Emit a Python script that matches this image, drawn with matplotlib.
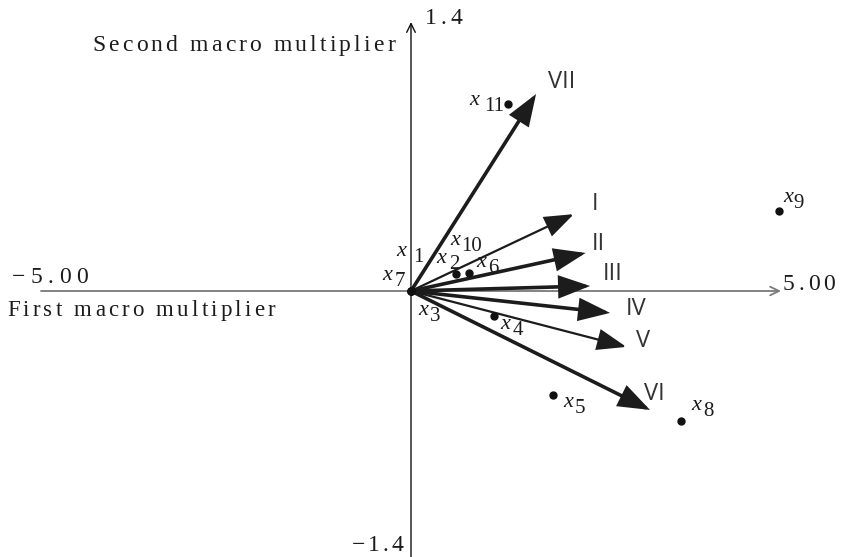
import matplotlib
matplotlib.use("Agg")
import matplotlib.pyplot as plt

# Factor loadings (arrows) on the two macro multipliers
factor_names = ["I", "II", "III", "IV", "V", "VI", "VII"]
factor_x = [2.20, 2.36, 2.42, 2.69, 2.91, 3.23, 1.69]
factor_y = [0.40, 0.198, 0.026, -0.114, -0.291, -0.619, 1.025]

# Observation scores
obs_names = ["1", "2", "3", "4", "5", "6", "7", "8", "9", "10", "11"]
obs_x = [0.0, 0.61, 0.0, 1.12, 1.92, 0.78, 0.0, 3.65, 4.97, 0.0, 1.31]
obs_y = [0.0, 0.088, 0.0, -0.13, -0.54, 0.094, 0.0, -0.676, 0.416, 0.0, 0.973]

x_end_labels = ["\u22125.00", "5.00"]
y_end_labels = ["1.4", "\u22121.4"]
x_title = "First macro multiplier"
y_title = "Second macro multiplier"

# ---- styling ----
arrow_lw = {"I": 1.6, "II": 2.6, "III": 2.6, "IV": 2.6, "V": 1.6, "VI": 2.6, "VII": 2.6}
# label placement relative to arrow tip (pixels: right, up)
roman_offset = {"I": (18, 4), "II": (6, 3), "III": (13, 6), "IV": (16, -2),
                "V": (10, 0), "VI": (-6, 10), "VII": (12, 6)}
# (x-left, x-baseline, gap to index) in pixels relative to the point
obs_offset = {"1": (-15, 35, 17), "2": (-20, 11, 13), "3": (7, -24, 12),
              "4": (6, -13, 13), "5": (10, -12, 12), "6": (8, 6, 11),
              "7": (-29, 11, 13), "8": (10, 11, 12), "9": (4, 9, 11),
              "10": (39, 46, 11), "11": (-39, -1, 15)}

W, H = 843, 557
fig = plt.figure(figsize=(W / 100, H / 100), dpi=100)
ax = fig.add_axes([0, 0, 1, 1])
ax.set_xlim(-411 / 74, 432 / 74)
ax.set_ylim(-266 / 192.14, 291 / 192.14)
ax.axis("off")

serif = "Liberation Serif"
ink = "#1c1c1c"

# horizontal axis (grey, open chevron)
ax.annotate("", xy=(5, 0), xytext=(-5, 0),
            arrowprops=dict(arrowstyle="->,head_length=0.45,head_width=0.22",
                            mutation_scale=14, color="#7a7a7a", lw=1.3,
                            shrinkA=0, shrinkB=0))
# vertical axis (black, open chevron)
ax.annotate("", xy=(0, 1.4), xytext=(0, ax.get_ylim()[0]),
            arrowprops=dict(arrowstyle="->,head_length=0.45,head_width=0.22",
                            mutation_scale=14, color="#111111", lw=1.0,
                            shrinkA=0, shrinkB=0))

# factor arrows
for name, fx, fy in zip(factor_names, factor_x, factor_y):
    ax.annotate("", xy=(fx, fy), xytext=(0, 0),
                arrowprops=dict(arrowstyle="-|>,head_length=0.9,head_width=0.33",
                                mutation_scale=20, color=ink, lw=arrow_lw[name],
                                shrinkA=0, shrinkB=0, joinstyle="miter"))
    dx, dy = roman_offset[name]
    ax.annotate(name, (fx, fy), xytext=(dx, dy), textcoords="offset pixels",
                fontsize=17, family="Open Sans", fontweight="normal", color="#333333",
                ha="left", va="baseline")

# observation points and their labels
ax.plot(obs_x, obs_y, "o", color="#111111", markersize=5, zorder=3)
for name, ox, oy in zip(obs_names, obs_x, obs_y):
    dx, dy, gap = obs_offset[name]
    ax.annotate("x", (ox, oy), xytext=(dx, dy), textcoords="offset pixels",
                fontsize=16, family=serif, style="italic", color=ink,
                ha="left", va="baseline")
    ax.annotate(name, (ox, oy), xytext=(dx + gap, dy - 6), textcoords="offset pixels",
                fontsize=15, family=serif, color=ink, ha="left", va="baseline")

# letter-spaced serif text placed in figure pixels (top-left origin)
renderer = fig.canvas.get_renderer()


def text_width(s, size):
    t = fig.text(0, 0, s + "|", fontsize=size, family=serif)
    w = t.get_window_extent(renderer).width
    t.remove()
    return w


def tracked(s, left, right, baseline, size):
    bar = text_width("", size)
    natural = text_width(s, size) - bar
    track = (right - left - natural) / (len(s) - 1)
    for i, ch in enumerate(s):
        if ch == " ":
            continue
        x = left + (text_width(s[:i], size) - bar) + i * track
        fig.text(x / W, 1 - baseline / H, ch, fontsize=size, family=serif,
                 color=ink, ha="left", va="baseline")


tracked(y_title, 92, 395, 51, 17)
tracked(x_title, 7, 275, 316, 16.5)
tracked(x_end_labels[0], 12, 88, 283, 17)
tracked(x_end_labels[1], 783, 835, 290, 17)
tracked(y_end_labels[0], 425, 462, 24, 17)
tracked(y_end_labels[1], 352, 403, 551, 17)

fig.savefig("out.png", dpi=100)
